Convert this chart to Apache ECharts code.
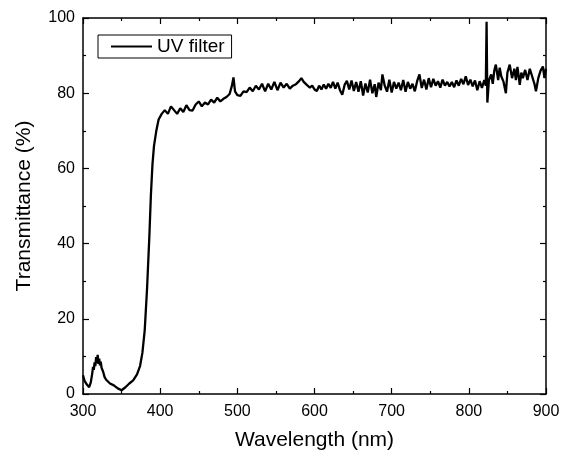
<!DOCTYPE html>
<html>
<head>
<meta charset="utf-8">
<script src="https://cdn.jsdelivr.net/npm/echarts@6/dist/echarts.min.js"></script>
<style>
  html, body { margin: 0; padding: 0; background: #fff; }
  #chart { width: 564px; height: 456px; }
</style>
</head>
<body>
<div id="chart"></div>
<script>
// wavelength (nm) and transmittance (%)
const wavelength = [
  300, 302, 305, 308, 310, 312, 313, 314, 315, 316, 317, 318, 319, 320, 321, 322, 323, 324, 326, 328, 330, 335, 340, 345, 350, 355,
  360, 365, 370, 374, 377, 380, 383, 386, 388, 390, 392, 395, 398, 402, 406, 410, 414, 418, 422, 426,
  430, 434, 438, 442, 446, 450, 454, 458, 462, 466, 470, 474, 478, 482, 486, 490, 493, 495, 497, 500,
  504, 508, 512, 516, 520, 524, 528, 532, 536, 540, 544, 548, 552, 556, 560, 564, 568, 572, 576, 580,
  583, 586, 590, 594, 597,
  600, 603, 606, 609, 612, 615, 618, 621, 624, 627, 630, 633, 636, 639, 642, 645, 648, 651, 654, 657,
  660, 663, 666, 669, 672, 675, 678, 680, 683, 686, 688, 691, 694, 697, 700,
  703, 706, 709, 712, 715, 718, 721, 724, 727, 730, 733, 736, 739, 742, 745, 748, 751, 754, 757, 760,
  763, 766, 769, 772, 775, 778, 781, 784, 787, 790, 793, 796, 799, 802, 805, 808, 811, 814, 817, 820,
  822, 823, 824, 826, 829, 831, 833, 835, 838, 840, 842, 845, 848, 850, 853, 856, 859, 861, 863, 866,
  868, 870, 873, 876, 879, 882, 885, 887, 890, 893, 896, 898, 900
];
const transmittance = [
  5.0, 3.5, 2.5, 1.8, 3.0, 5.5, 7.2, 6.4, 8.4, 7.4, 9.8, 8.2, 10.4, 8.0, 9.4, 7.6, 8.6, 7.0, 6.0, 4.5, 3.8, 2.8, 2.3, 1.5, 1.0, 1.8,
  2.8, 3.6, 5.2, 7.5, 11, 17, 28, 42, 53, 61, 66, 70, 73, 74.5, 75.5, 74.5, 76.5, 75.5, 74.5, 76,
  75, 76.8, 75.5, 75.4, 77, 77.8, 76.5, 77.5, 77, 78.3, 77.5, 78.8, 77.8, 78.5, 79, 79.8, 82, 84.2, 80.5, 79.5,
  79.3, 80.5, 80.3, 81.5, 80.5, 82, 81, 82.5, 80.5, 82.5, 81, 83, 80.8, 82.8, 81.5, 82.5, 81.2, 82, 82.4, 83.2,
  84, 83, 82.2, 81.5, 82,
  81, 80.6, 82, 81, 82.3, 81.2, 82.5, 81.4, 83, 81.2, 82.8, 80.8, 79.6, 82.2, 83.3, 81, 83.4, 80.6, 83, 80.4,
  83.2, 79.4, 82.6, 80.2, 83.6, 80, 82.4, 79, 82.8, 80.8, 85, 82, 80.4, 83.6, 80.2,
  83, 81.2, 82.8, 80.8, 83.5, 80.4, 83, 81.2, 82.5, 80.5, 83.2, 85, 81.4, 83.6, 81, 84, 81.6, 83.8, 82, 83.2,
  81.5, 83.6, 82, 83, 81.8, 83, 81.6, 83.4, 82, 83.8, 82.4, 84.5, 82.2, 83.6, 81.8, 83.4, 80.8, 83.2, 81.4, 83.5,
  82, 99, 77.5, 83.4, 85, 82.5, 86, 87.6, 83.5, 86.8, 84.5, 83, 80, 85.5, 87.6, 84, 86.5, 83.5, 87, 82.2,
  85.5, 84, 86.2, 83.5, 86.5, 84.5, 82.5, 80.5, 84, 86, 87.1, 84, 86.5
];
const seriesName = 'UV filter';

const font = "'Liberation Sans', Arial, sans-serif";
const chart = echarts.init(document.getElementById('chart'));

const baseX = {
  type: 'value', min: 300, max: 900, interval: 100,
  axisLine: { show: true, onZero: false, lineStyle: { color: '#000', width: 1.5 } },
  axisTick: { show: true, inside: true, length: 6, lineStyle: { color: '#000', width: 1.2 } },
  minorTick: { show: true, splitNumber: 2, length: 3, lineStyle: { color: '#000', width: 1.2 } },
  splitLine: { show: false }
};
const baseY = {
  type: 'value', min: 0, max: 100, interval: 20,
  axisLine: { show: true, onZero: false, lineStyle: { color: '#000', width: 1.5 } },
  axisTick: { show: true, inside: true, length: 6, lineStyle: { color: '#000', width: 1.2 } },
  minorTick: { show: true, splitNumber: 2, length: 3, lineStyle: { color: '#000', width: 1.2 } },
  splitLine: { show: false }
};

const option = {
  animation: false,
  backgroundColor: '#fff',
  grid: { left: 83, right: 18, top: 18, bottom: 62 },
  legend: {
    left: 98, top: 35,
    data: [{ name: seriesName, icon: 'rect' }],
    borderColor: '#000', borderWidth: 1, borderRadius: 0,
    padding: [2, 7, 2, 13],
    itemWidth: 41, itemHeight: 2,
    itemStyle: { color: '#000' },
    textStyle: { fontFamily: font, fontSize: 19, color: '#000', lineHeight: 19 }
  },
  xAxis: [
    Object.assign({}, baseX, {
      position: 'bottom',
      name: 'Wavelength (nm)', nameLocation: 'middle', nameGap: 36,
      nameTextStyle: { fontFamily: font, fontSize: 21, color: '#000' },
      axisLabel: { fontFamily: font, fontSize: 16, color: '#000', margin: 10 }
    }),
    Object.assign({}, baseX, { position: 'top', axisLabel: { show: false } })
  ],
  yAxis: [
    Object.assign({}, baseY, {
      position: 'left',
      name: 'Transmittance (%)', nameLocation: 'middle', nameGap: 48,
      nameTextStyle: { fontFamily: font, fontSize: 21, color: '#000' },
      axisLabel: { fontFamily: font, fontSize: 16, color: '#000', margin: 8 }
    }),
    Object.assign({}, baseY, { position: 'right', axisLabel: { show: false } })
  ],
  series: [{
    name: seriesName,
    type: 'line',
    xAxisIndex: 0, yAxisIndex: 0,
    data: wavelength.map((w, i) => [w, transmittance[i]]),
    symbol: 'none',
    lineStyle: { color: '#000', width: 2.3 },
    itemStyle: { color: '#000' }
  }]
};

chart.setOption(option);
</script>
</body>
</html>
